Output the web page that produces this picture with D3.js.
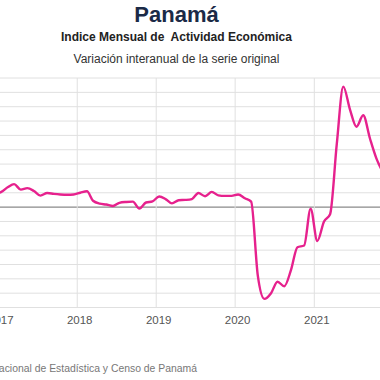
<!DOCTYPE html>
<html>
<head>
<meta charset="utf-8">
<script src="https://cdn.jsdelivr.net/npm/d3@7"></script>
<style>
  html, body { margin: 0; padding: 0; background: #fff; overflow: hidden; }
  svg { display: block; font-family: Arial, "Liberation Sans", sans-serif; }
</style>
</head>
<body>
<svg id="chart" width="380" height="380"></svg>
<script>
// ---- Data ----
const startMonth = "2016-12";
const values = [
  4.5,                                                    // Dec 2016
  5.3, 7.0, 8.0, 6.1, 6.6, 5.6, 4.0, 4.9, 4.6, 4.4, 4.3, 4.4,   // 2017
  5.0, 5.5, 2.2, 1.2, 0.9, 0.4, 1.5, 1.8, 1.9, -0.5, 1.6, 2.0,  // 2018
  3.7, 2.7, 1.3, 2.4, 2.5, 2.8, 4.9, 3.8, 5.3, 4.1, 3.9, 3.9,   // 2019
  4.4, 3.1, 1.9, -24, -32, -30, -26, -27.6, -22, -14, -13.4, -0.6, // 2020
  -11.8, -5, -2.5, 22, 42, 34, 28, 32, 24, 17, 12              // 2021
];
const yTicks = [-35, -30, -25, -20, -15, -10, -5, 0, 5, 10, 15, 20, 25, 30, 35, 40, 45];
const xTickYears = [2017, 2018, 2019, 2020, 2021];
const title = "Panamá";
const subtitle = "Indice Mensual de  Actividad Económica";
const subtitle2 = "Variación interanual de la serie original";
const source = "Fuente: Instituto Nacional de Estadística y Censo de Panamá";

// ---- Build ----
const parse = d3.timeParse("%Y-%m");
const start = parse(startMonth);
const data = values.map((v, i) => ({ date: d3.timeDay.offset(d3.timeMonth.offset(start, i), 14), value: v }));

const svg = d3.select("#chart");
const W = 380;

const x = d3.scaleTime()
  .domain([new Date(2017, 0, 1), new Date(2021, 0, 1)])
  .range([-1.7, 314.3]);
const y = d3.scaleLinear().domain([-35, 45]).range([307.5, 78]);

// horizontal grid
svg.append("g").selectAll("line").data(yTicks).join("line")
  .attr("x1", -60).attr("x2", W + 60)
  .attr("y1", d => y(d)).attr("y2", d => y(d))
  .attr("stroke", d => d === 0 ? "#8a8a8a" : "#e0e0e0")
  .attr("stroke-width", d => d === 0 ? 1.2 : 1);

// vertical grid
svg.append("g").selectAll("line").data(xTickYears).join("line")
  .attr("x1", d => x(new Date(d, 0, 1))).attr("x2", d => x(new Date(d, 0, 1)))
  .attr("y1", y(45)).attr("y2", y(-35))
  .attr("stroke", "#e0e0e0").attr("stroke-width", 1);

// x tick labels
svg.append("g").selectAll("text").data(xTickYears).join("text")
  .attr("x", d => x(new Date(d, 0, 1)) + 2.5)
  .attr("y", 324)
  .attr("text-anchor", "middle")
  .attr("font-size", 11.5)
  .attr("fill", "#555")
  .text(d => d);

// line
const line = d3.line()
  .x(d => x(d.date)).y(d => y(d.value))
  .curve(d3.curveMonotoneX);
svg.append("path").datum(data)
  .attr("d", line)
  .attr("fill", "none")
  .attr("stroke", "#E6218D")
  .attr("stroke-width", 2.4)
  .attr("stroke-linejoin", "round");

// titles
svg.append("text").attr("x", 176.5).attr("y", 22)
  .attr("text-anchor", "middle").attr("font-size", 22).attr("font-weight", "bold")
  .attr("fill", "#1B2A47").text(title);
svg.append("text").attr("x", 176.5).attr("y", 41)
  .attr("text-anchor", "middle").attr("font-size", 12).attr("font-weight", "bold")
  .attr("fill", "#222").style("white-space", "pre").text(subtitle);
svg.append("text").attr("x", 176.5).attr("y", 63)
  .attr("text-anchor", "middle").attr("font-size", 12)
  .attr("fill", "#333").text(subtitle2);

// source
svg.append("text").attr("x", 197).attr("y", 372)
  .attr("text-anchor", "end").attr("font-size", 10.4)
  .attr("fill", "#777").text(source);
</script>
</body>
</html>
